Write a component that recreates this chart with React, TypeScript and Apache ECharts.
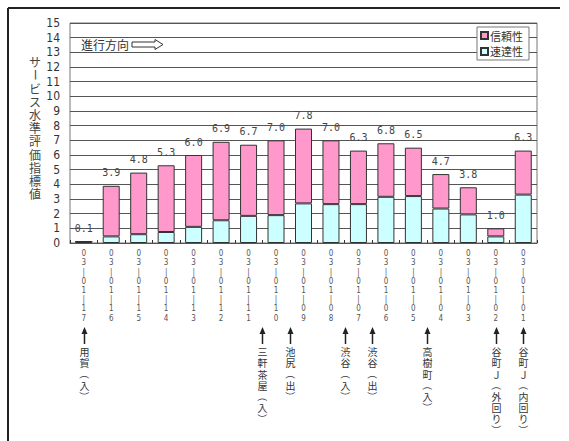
import React, { useEffect, useRef } from "react";
import * as echarts from "echarts";

const categories = [
  "03-01-17", "03-01-16", "03-01-15", "03-01-14", "03-01-13", "03-01-12",
  "03-01-11", "03-01-10", "03-01-09", "03-01-08", "03-01-07", "03-01-06",
  "03-01-05", "03-01-04", "03-01-03", "03-01-02", "03-01-01",
];
const totals = [0.1, 3.9, 4.8, 5.3, 6.0, 6.9, 6.7, 7.0, 7.8, 7.0, 6.3, 6.8, 6.5, 4.7, 3.8, 1.0, 6.3];
const speed = [0.1, 0.45, 0.6, 0.75, 1.1, 1.55, 1.85, 1.9, 2.7, 2.65, 2.65, 3.15, 3.2, 2.35, 1.95, 0.45, 3.3];
const reliability = [0, 3.45, 4.2, 4.55, 4.9, 5.35, 4.85, 5.1, 5.1, 4.35, 3.65, 3.65, 3.3, 2.35, 1.85, 0.55, 3.0];
const yTicks = { min: 0, max: 15, interval: 1 };
const seriesNames = ["信頼性", "速達性"];
const yAxisTitle = "サービス水準評価指標値";
const directionText = "進行方向";
const stationNames = ["用賀（入）", "三軒茶屋（入）", "池尻（出）", "渋谷（入）", "渋谷（出）", "高樹町（入）", "谷町Ｊ（外回り）", "谷町Ｊ（内回り）"];
const stationPositions = [0, 6.5, 7.5, 9.5, 10.5, 12.5, 15, 16];

const PINK = "#FF99CC";
const CYAN = "#CCFFFF";
const JP = "'Noto Sans CJK JP', sans-serif";
const NUM = "'Liberation Sans Narrow', 'DejaVu Sans Condensed', 'Liberation Sans', sans-serif";

// characters that are turned a quarter turn in vertical writing
const ROTATED = ["（", "）", "ー"];

function verticalText(text: string, x: number, yTop: number, pitch: number, fontSize: number, fill: string) {
  return text.split("").map((c, j) => ({
    type: "text",
    silent: true,
    x,
    y: yTop + pitch * j + pitch / 2,
    rotation: ROTATED.includes(c) ? -Math.PI / 2 : 0,
    style: {
      text: c,
      x: 0,
      y: 0,
      textAlign: "center",
      textVerticalAlign: "middle",
      fontFamily: JP,
      fontSize,
      fill,
    },
  }));
}

export default function App() {
  const ref = useRef<HTMLDivElement>(null);
  useEffect(() => {
    if (!ref.current) return;
    const chart = echarts.init(ref.current, null, { renderer: "svg" });
    const option: any = {
      animation: false,
      backgroundColor: "#ffffff",
      grid: { left: 70, right: 32, top: 23, bottom: 198, show: true, borderColor: "#777", borderWidth: 1, backgroundColor: "transparent" },
      legend: {
        data: seriesNames,
        orient: "vertical",
        left: 477,
        top: 27,
        itemWidth: 7,
        itemHeight: 7,
        itemGap: 5,
        padding: [3, 6, 3, 3],
        backgroundColor: "#fff",
        borderColor: "#777",
        borderWidth: 1,
        borderRadius: 0,
        icon: "rect",
        textStyle: { fontFamily: JP, fontSize: 11, color: "#333", padding: [0, 0, 0, -3] },
      },
      xAxis: {
        type: "category",
        data: categories,
        axisLine: { show: true, lineStyle: { color: "#555" } },
        axisTick: { show: true, inside: true, length: 3, lineStyle: { color: "#333" } },
        axisLabel: {
          interval: 0,
          margin: 6,
          fontSize: 8,
          lineHeight: 9.2,
          color: "#555",
          fontFamily: NUM,
          formatter: (v: string) => v.split("").map((c) => (c === "-" ? "|" : c)).join("\n"),
        },
        splitLine: { show: false },
      },
      yAxis: {
        type: "value",
        min: yTicks.min,
        max: yTicks.max,
        interval: yTicks.interval,
        axisLine: { show: false },
        axisTick: { show: false },
        axisLabel: { fontSize: 12, color: "#333", margin: 10, fontFamily: NUM },
        splitLine: { show: true, lineStyle: { color: "#555", width: 1 } },
      },
      series: [
        {
          name: seriesNames[1],
          type: "bar",
          stack: "total",
          data: speed,
          barWidth: 17,
          itemStyle: { color: CYAN, borderColor: "#333", borderWidth: 1 },
        },
        {
          name: seriesNames[0],
          type: "bar",
          stack: "total",
          data: reliability,
          barWidth: 17,
          itemStyle: { color: PINK, borderColor: "#333", borderWidth: 1 },
          label: {
            show: true,
            position: "top",
            distance: 8,
            fontFamily: "'DejaVu Sans Mono', monospace",
            fontSize: 10,
            color: "#444",
            formatter: (p: any) => totals[p.dataIndex].toFixed(1),
          },
        },
      ],
    };
    chart.setOption(option);

    const x0 = chart.convertToPixel({ xAxisIndex: 0 }, 0) as number;
    const x1 = chart.convertToPixel({ xAxisIndex: 0 }, 1) as number;
    const step = x1 - x0;

    const graphics: any[] = [
      { type: "line", silent: true, shape: { x1: 8, y1: 8, x2: 560, y2: 8 }, style: { stroke: "#222", lineWidth: 2 } },
      { type: "line", silent: true, shape: { x1: 8, y1: 8, x2: 8, y2: 441 }, style: { stroke: "#222", lineWidth: 2 } },
      ...verticalText(yAxisTitle, 35, 55, 13.2, 12, "#444"),
      {
        type: "text",
        silent: true,
        style: {
          text: directionText,
          x: 81,
          y: 44,
          textAlign: "left",
          textVerticalAlign: "middle",
          fontFamily: JP,
          fontSize: 12,
          fill: "#333",
        },
      },
      {
        type: "polygon",
        silent: true,
        shape: {
          points: [[132, 42], [155, 42], [155, 39.5], [163, 44.5], [155, 49.5], [155, 47], [132, 47]],
        },
        style: { fill: "#fff", stroke: "#333", lineWidth: 1 },
      },
    ];

    stationNames.forEach((name, i) => {
      const x = Math.round(x0 + stationPositions[i] * step) + 0.5;
      graphics.push({
        type: "line",
        silent: true,
        shape: { x1: x, y1: 332, x2: x, y2: 344 },
        style: { stroke: "#222", lineWidth: 1.5 },
      });
      graphics.push({
        type: "polygon",
        silent: true,
        shape: { points: [[x - 3, 334], [x + 3, 334], [x, 327]] },
        style: { fill: "#222" },
      });
      graphics.push(...verticalText(name, x, 346, 11.2, 10, "#333"));
    });

    chart.setOption({ graphic: graphics });
    return () => chart.dispose();
  }, []);

  return (
    <div
      ref={ref}
      style={{ position: "fixed", left: 0, top: 0, width: 569, height: 441, background: "#fff" }}
    />
  );
}
